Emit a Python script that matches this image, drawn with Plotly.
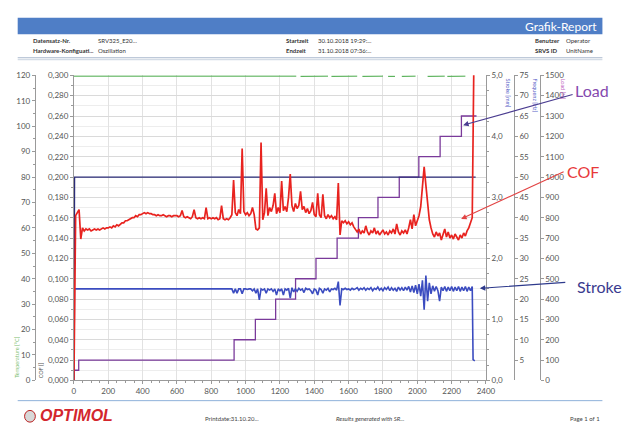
import plotly.graph_objects as go

W, H = 634, 433

# ---- measured series -------------------------------------------------------
# COF [-], sampled every 10 s from 0 to 2330 s
cof_time = list(range(0, 2340, 10))
cof_value = [
    0.000, 0.162, 0.165, 0.168, 0.139, 0.150, 0.147, 0.149, 0.148, 0.149,
    0.147, 0.148, 0.149, 0.148, 0.149, 0.148, 0.149, 0.150, 0.149, 0.150,
    0.150, 0.151, 0.150, 0.152, 0.151, 0.153, 0.152, 0.154, 0.155, 0.155,
    0.157, 0.157, 0.158, 0.159, 0.160, 0.160, 0.162, 0.161, 0.163, 0.163,
    0.164, 0.165, 0.164, 0.165, 0.164, 0.164, 0.163, 0.163, 0.162, 0.163,
    0.162, 0.162, 0.163, 0.162, 0.161, 0.162, 0.162, 0.161, 0.162, 0.162,
    0.162, 0.161, 0.162, 0.167, 0.161, 0.160, 0.161, 0.160, 0.159, 0.161,
    0.168, 0.160, 0.159, 0.160, 0.159, 0.160, 0.159, 0.170, 0.159, 0.160,
    0.159, 0.160, 0.159, 0.160, 0.158, 0.159, 0.172, 0.159, 0.158, 0.159,
    0.158, 0.160, 0.163, 0.197, 0.165, 0.162, 0.168, 0.164, 0.228, 0.166,
    0.163, 0.165, 0.162, 0.164, 0.170, 0.163, 0.149, 0.148, 0.150, 0.234,
    0.158, 0.165, 0.189, 0.162, 0.170, 0.166, 0.172, 0.184, 0.164, 0.170,
    0.165, 0.196, 0.167, 0.171, 0.166, 0.180, 0.203, 0.172, 0.166, 0.174,
    0.169, 0.172, 0.186, 0.168, 0.171, 0.165, 0.169, 0.164, 0.167, 0.175,
    0.163, 0.161, 0.184, 0.163, 0.160, 0.183, 0.162, 0.159, 0.163, 0.160,
    0.162, 0.159, 0.161, 0.158, 0.194, 0.143, 0.157, 0.155, 0.157, 0.154,
    0.156, 0.153, 0.155, 0.151, 0.148, 0.146, 0.149, 0.144, 0.147, 0.145,
    0.152, 0.146, 0.143, 0.147, 0.145, 0.150, 0.144, 0.147, 0.143, 0.146,
    0.148, 0.144, 0.146, 0.143, 0.147, 0.145, 0.149, 0.144, 0.154, 0.146,
    0.143, 0.147, 0.145, 0.148, 0.144, 0.150, 0.158, 0.149, 0.163, 0.152,
    0.158, 0.162, 0.171, 0.188, 0.210, 0.192, 0.172, 0.158, 0.150, 0.144,
    0.141, 0.146, 0.142, 0.145, 0.138, 0.144, 0.149, 0.141, 0.146, 0.140,
    0.143, 0.139, 0.144, 0.141, 0.138, 0.143, 0.140, 0.145, 0.142, 0.147,
    0.150, 0.155, 0.160, 0.320,
]

# Stroke [mm]: constant until 920 s, then sampled every 10 s, then switch-off
stroke_time = [0, 3] + list(range(920, 2330, 10)) + [2325, 2335]
stroke_value = [
    0.00, 1.50,
    1.50, 1.43, 1.50, 1.43, 1.50, 1.50, 1.42, 1.50, 1.50, 1.49,
    1.50, 1.50, 1.47, 1.50, 1.43, 1.50, 1.32, 1.50,
    1.48, 1.50, 1.43, 1.50, 1.48, 1.50, 1.46, 1.50, 1.40, 1.50,
    1.47, 1.50, 1.40, 1.50, 1.48, 1.51, 1.35, 1.52, 1.45, 1.50,
    1.46, 1.51, 1.48, 1.50, 1.44, 1.51, 1.49, 1.50, 1.47, 1.42,
    1.50, 1.48, 1.40, 1.51, 1.49, 1.43, 1.50, 1.48, 1.51, 1.45,
    1.50, 1.49, 1.51, 1.48, 1.62, 1.23, 1.50, 1.49, 1.51, 1.49,
    1.50, 1.48, 1.51, 1.49, 1.50, 1.52, 1.48, 1.51, 1.49, 1.52,
    1.48, 1.51, 1.49, 1.52, 1.47, 1.51, 1.49, 1.53, 1.48, 1.51,
    1.47, 1.52, 1.49, 1.53, 1.47, 1.52, 1.48, 1.51, 1.46, 1.53,
    1.48, 1.52, 1.47, 1.53, 1.48, 1.54, 1.45, 1.55, 1.44, 1.56,
    1.42, 1.58, 1.38, 1.64, 1.16, 1.72, 1.30, 1.60, 1.42, 1.55,
    1.46, 1.54, 1.47, 1.30, 1.53, 1.47, 1.54, 1.46, 1.53, 1.47,
    1.54, 1.46, 1.53, 1.47, 1.54, 1.46, 1.53, 1.47, 1.54, 1.46,
    1.53, 1.47, 1.54,
    0.34, 0.32,
]

# Load [N] step programme (start time of each step)
load_time = [0, 28, 933, 1057, 1175, 1291, 1410, 1533, 1657, 1771, 1895, 2009, 2133, 2257, 2345]
load_value = [50, 100, 200, 300, 400, 500, 600, 700, 800, 900, 1000, 1100, 1200, 1300, 1300]

# Frequency [Hz]
freq_time = [0, 4, 2340]
freq_value = [0, 50, 50]

# Temperature [°C] (gaps where no value was logged)
temp_time = [0, 1295, None, 1320, 1480, None, 1500, 1650, None, 1680, 1800,
             None, 1830, 1870, None, 1910, 1990, None, 2060, 2160, None, 2175, 2280]
temp_value = [119.7, 119.7, None, 119.6, 119.7, None, 119.6, 119.7, None, 119.6, 119.7,
              None, 119.6, 119.6, None, 119.6, 119.7, None, 119.6, 119.7, None, 119.6, 119.7]

x_ticks = list(range(0, 2600, 200))

# ---- helpers for placing things in pixel units -----------------------------
def px(x):
    return x / W


def py(y):
    return 1 - y / H


X0, X1 = 73.3, 493.3
Y_TOP, Y_BOT = 72.0, 384.3
DOM_X = [px(X0), px(X1)]
DOM_Y = [py(Y_BOT), py(Y_TOP)]

RED = "#E8231F"
BLUE = "#3B4CC0"
NAVY = "#2B2C78"
PURPLE = "#7A3A9A"
GREEN = "#5DB35D"
AXIS = "#9A9A9A"
TICKFONT = dict(family="Lato, Liberation Sans, sans-serif", size=8, color="#555")

fig = go.Figure()

fig.add_trace(go.Scatter(x=temp_time, y=temp_value, mode="lines", yaxis="y",
                         line=dict(color=GREEN, width=1.1), connectgaps=False))
fig.add_trace(go.Scatter(x=load_time, y=load_value, mode="lines", yaxis="y2",
                         line=dict(color=PURPLE, width=1.3, shape="hv")))
fig.add_trace(go.Scatter(x=freq_time, y=freq_value, mode="lines", yaxis="y3",
                         line=dict(color=NAVY, width=1.3)))
fig.add_trace(go.Scatter(x=stroke_time, y=stroke_value, mode="lines", yaxis="y4",
                         line=dict(color=BLUE, width=1.6)))
fig.add_trace(go.Scatter(x=cof_time, y=cof_value, mode="lines", yaxis="y5",
                         line=dict(color=RED, width=1.7)))

common_y = dict(showline=True, linecolor=AXIS, linewidth=1, ticks="outside",
                ticklen=3, tickcolor=AXIS, tickfont=TICKFONT, zeroline=False,
                domain=DOM_Y)

fig.update_layout(
    width=W, height=H,
    margin=dict(l=0, r=0, t=0, b=0),
    paper_bgcolor="white", plot_bgcolor="white",
    showlegend=False,
    separators=",.",
    xaxis=dict(domain=DOM_X, range=[0, 2400], tickvals=x_ticks, showgrid=True,
               gridcolor="#E2E2E2", gridwidth=1, showline=True, linecolor=AXIS,
               ticks="outside", ticklen=3, tickcolor=AXIS, tickfont=TICKFONT,
               zeroline=False,
               minor=dict(dtick=50, ticks="outside", ticklen=2, tickcolor=AXIS)),
    # temperature (outer left)
    yaxis=dict(range=[0, 120], dtick=10, side="left", anchor="free",
               position=px(33.5), showgrid=False,
               minor=dict(dtick=5, ticks="outside", ticklen=2, tickcolor=AXIS),
               **common_y),
    # load (outer right)
    yaxis2=dict(range=[0, 1500], dtick=100, side="right", anchor="free",
                position=px(548), overlaying="y", showgrid=False, **common_y),
    # frequency
    yaxis3=dict(range=[0, 75], tickvals=list(range(5, 80, 5)), side="right",
                anchor="free", position=px(521.7), overlaying="y",
                showgrid=False, **common_y),
    # stroke
    yaxis4=dict(range=[0, 5], dtick=1, tickformat=".1f", side="right",
                anchor="x", overlaying="y", showgrid=False,
                minor=dict(dtick=0.25, ticks="outside", ticklen=2, tickcolor=AXIS),
                **common_y),
    # COF (inner left, carries the grid)
    yaxis5=dict(range=[0, 0.3], dtick=0.02, tickformat=".3f", side="left",
                anchor="x", overlaying="y", showgrid=True, gridcolor="#DADADA",
                minor=dict(dtick=0.01, showgrid=True, gridcolor="#EDEDED",
                           ticks="outside", ticklen=2, tickcolor=AXIS),
                **common_y),
)

shapes = []
annotations = []

# report header bar
shapes.append(dict(type="rect", xref="paper", yref="paper",
                   x0=px(16), x1=px(612), y0=py(30), y1=py(13),
                   fillcolor="#4F7EC6", line=dict(width=0)))
annotations.append(dict(text="Grafik-Report", xref="paper", yref="paper",
                        x=px(609), y=py(21.5), xanchor="right", yanchor="middle",
                        showarrow=False,
                        font=dict(family="Lato, sans-serif", size=12, color="white")))

HFONT = dict(family="Lato, Liberation Sans, sans-serif", size=6, color="#333")
header_rows = [
    (36, [(30, "<b>Datensatz-Nr.</b>"), (96, "SRV325_E20..."),
          (287, "<b>Startzeit</b>"), (320, "30.10.2018 19:29:..."),
          (541, "<b>Benutzer</b>"), (573, "Operator")]),
    (47, [(30, "<b>Hardware-Konfiguati...</b>"), (96, "Oszillation"),
          (287, "<b>Endzeit</b>"), (320, "31.10.2018 07:36:..."),
          (541, "<b>SRVS ID</b>"), (573, "UnitName")]),
]
for yy, items in header_rows:
    for xx, txt in items:
        annotations.append(dict(text=txt, xref="paper", yref="paper", x=px(xx),
                                y=py(yy), xanchor="left", yanchor="middle",
                                showarrow=False, font=HFONT))

shapes.append(dict(type="line", xref="paper", yref="paper", x0=px(16), x1=px(612),
                   y0=py(54), y1=py(54), line=dict(color="#A9B7CC", width=1)))
shapes.append(dict(type="line", xref="paper", yref="paper", x0=px(16), x1=px(612),
                   y0=py(56), y1=py(56), line=dict(color="#C9D3E0", width=1)))

# footer
shapes.append(dict(type="line", xref="paper", yref="paper", x0=px(16), x1=px(612),
                   y0=py(405), y1=py(405), line=dict(color="#8FB2DA", width=1)))
shapes.append(dict(type="circle", xref="paper", yref="paper",
                   x0=px(23), x1=px(34), y0=py(427), y1=py(415),
                   fillcolor="#D8D8D8", line=dict(color="#B22", width=1)))
annotations.append(dict(text="<b><i>OPTIMOL</i></b>", xref="paper", yref="paper",
                        x=px(37), y=py(420), xanchor="left", yanchor="middle",
                        showarrow=False,
                        font=dict(family="Liberation Sans, Arial, sans-serif",
                                  size=16, color="#D3262D")))
FFONT = dict(family="Lato, sans-serif", size=6, color="#444")
annotations.append(dict(text="Printdate:31.10.20...", xref="paper", yref="paper",
                        x=px(205), y=py(423), xanchor="left", yanchor="middle",
                        showarrow=False, font=FFONT))
annotations.append(dict(text="<i>Results generated with SR...</i>", xref="paper",
                        yref="paper", x=px(338), y=py(423), xanchor="left",
                        yanchor="middle", showarrow=False, font=FFONT))
annotations.append(dict(text="Page 1 of 1", xref="paper", yref="paper",
                        x=px(612), y=py(423), xanchor="right", yanchor="middle",
                        showarrow=False, font=FFONT))

# axis titles
TF = "Lato, sans-serif"
annotations.append(dict(text="Temperature [°C]", xref="paper", yref="paper",
                        x=px(15), y=py(384), xanchor="center", yanchor="bottom",
                        textangle=-90, showarrow=False,
                        font=dict(family=TF, size=5.5, color="#7DBE6F")))
annotations.append(dict(text="COF []", xref="paper", yref="paper",
                        x=px(40), y=py(384), xanchor="center", yanchor="bottom",
                        textangle=-90, showarrow=False,
                        font=dict(family=TF, size=5.5, color="#555")))
for xx, txt, col in [(516, "Stroke [mm]", "#5A63C8"),
                     (543, "Frequenz [Hz]", "#5A63C8"),
                     (572, "Load [N]", "#C36AC3")]:
    annotations.append(dict(text=txt, xref="paper", yref="paper", x=px(xx),
                            y=py(73), xanchor="center", yanchor="top",
                            textangle=90, showarrow=False,
                            font=dict(family=TF, size=5.5, color=col)))

# callouts
callouts = [
    ("Load", "#8549AE", "#4A3C90", (601, 88), (581, 92), (470, 123)),
    ("COF", "#E8393A", "#E24444", (592, 170), (572, 171), (468, 219)),
    ("Stroke", "#3B3B8F", "#2E3A8C", (609, 288), (574, 284), (487, 290)),
]
for txt, tcol, acol, (tx, ty), (sx, sy), (hx, hy) in callouts:
    annotations.append(dict(text=txt, xref="paper", yref="paper", x=px(tx),
                            y=py(ty), xanchor="center", yanchor="middle",
                            showarrow=False,
                            font=dict(family="Lato, sans-serif", size=16, color=tcol)))
    annotations.append(dict(text="", xref="paper", yref="paper", x=px(hx), y=py(hy),
                            ax=sx - hx, ay=sy - hy, showarrow=True, arrowhead=2,
                            arrowsize=1, arrowwidth=1.1, arrowcolor=acol))

fig.update_layout(shapes=shapes, annotations=annotations)
fig.write_html("out.html")
